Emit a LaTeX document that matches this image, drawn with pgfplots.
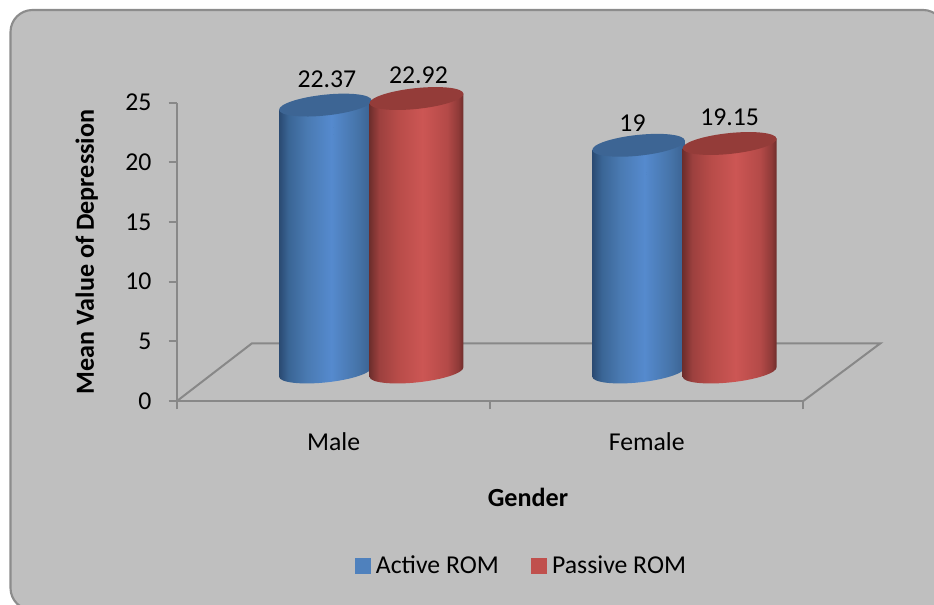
\documentclass[border=0pt]{standalone}
\usepackage{fontspec}
\setmainfont{Carlito}
\usepackage{pgfplots}
\pgfplotsset{compat=1.18}

\definecolor{framegray}{HTML}{8C8C8C}
\definecolor{panelgray}{HTML}{BFBFBF}
\definecolor{axisgray}{HTML}{888888}
\definecolor{activeblue}{HTML}{4F81BD}
\definecolor{activetop}{HTML}{3D6594}
\definecolor{passivered}{HTML}{C0504D}
\definecolor{passivetop}{HTML}{943C39}

\definecolor{bA}{HTML}{2A4A72}\definecolor{bB}{HTML}{3A6595}
\definecolor{bC}{HTML}{4A7AB2}\definecolor{bD}{HTML}{558ACE}
\definecolor{bE}{HTML}{4674A9}\definecolor{bF}{HTML}{3A6190}
\definecolor{rA}{HTML}{6E2E2C}\definecolor{rB}{HTML}{9C403E}
\definecolor{rC}{HTML}{B84C49}\definecolor{rD}{HTML}{CC5654}
\definecolor{rE}{HTML}{B44A48}\definecolor{rF}{HTML}{8F3A38}
\definecolor{rG}{HTML}{6B2C2A}

% Side shading of the cylinders; the path occupies the 25bp--75bp band.
\pgfdeclarehorizontalshading{cylblue}{100bp}{
  color(0bp)=(bA); color(25bp)=(bA); color(30bp)=(bB); color(40bp)=(bC);
  color(53bp)=(bD); color(67bp)=(bE); color(75bp)=(bF); color(100bp)=(bF)}
\pgfdeclarehorizontalshading{cylred}{100bp}{
  color(0bp)=(rA); color(25bp)=(rA); color(30bp)=(rB); color(40bp)=(rC);
  color(53bp)=(rD); color(66bp)=(rE); color(72bp)=(rF); color(75bp)=(rG);
  color(100bp)=(rG)}

% One cylinder, drawn at its data point; the height comes from the value \val.
% #1 sideways offset, #2 major radius, #3 minor radius, #4 tilt of the ellipses
% in degrees, #5 side shading, #6 colour of the top face.
\newcommand{\drawcylinder}[6]{%
  \pgfmathsetmacro{\cylH}{\val*11.932}%
  \pgfmathsetmacro{\cx}{(#1)*0.75}%
  \pgfmathsetmacro{\cy}{29*0.75}%
  \pgfmathsetmacro{\ax}{#2*cos(#4)*0.75}%
  \pgfmathsetmacro{\ay}{#2*sin(#4)*0.75}%
  \pgfmathsetmacro{\bx}{-#3*sin(#4)*0.75}%
  \pgfmathsetmacro{\by}{#3*cos(#4)*0.75}%
  \pgfmathsetmacro{\baseY}{\cy-\cylH*0.75}%
  \pgfscope
    \pgfpathmoveto{\pgfpoint{\cx pt-\ax pt}{\cy pt-\ay pt}}%
    \pgfpathlineto{\pgfpoint{\cx pt-\ax pt}{\baseY pt-\ay pt}}%
    \pgfpatharcaxes{180}{360}{\pgfpoint{\ax pt}{\ay pt}}{\pgfpoint{\bx pt}{\by pt}}%
    \pgfpathlineto{\pgfpoint{\cx pt+\ax pt}{\cy pt+\ay pt}}%
    \pgfpathclose
    \pgfshadepath{#5}{0}%
    \pgfusepath{discard}%
  \endpgfscope
  \pgfscope
    \pgfsetfillcolor{#6}%
    \pgfpathellipse{\pgfpoint{\cx pt}{\cy pt}}{\pgfpoint{\ax pt}{\ay pt}}{\pgfpoint{\bx pt}{\by pt}}%
    \pgfusepath{fill}%
  \endpgfscope}

\pgfplotsset{
  cylinders/.style={
    forget plot,
    scatter,
    only marks,
    mark=*,
    mark size=0pt,
    mark options={draw=none,fill=none},
    point meta=y,
    visualization depends on={rawy \as \val},
    visualization depends on={\thisrow{dx} \as \labdx},
    visualization depends on={\thisrow{dy} \as \labdy},
    scatter/@post marker code/.code={},
    nodes near coords,
    every node near coord/.append style={font=\fontsize{19.3}{23}\selectfont,
      text=black,anchor=center,inner sep=0pt},
  },
}

\begin{document}
\begin{tikzpicture}[x=0.75pt,y=0.75pt]
  \useasboundingbox (0,0) rectangle (934,604);
  \begin{scope}
    \clip (0,0) rectangle (934,604);
    \draw[framegray,line width=1.6pt,fill=panelgray,rounded corners=16.5pt]
      (10.5,-6) rectangle (945,594);
  \end{scope}

  \begin{axis}[
    at={(132.75pt,152.25pt)},anchor=south west,
    scale only axis,
    width=626.3*0.75pt,height=298.3*0.75pt,
    xmin=0,xmax=2,ymin=0,ymax=25,
    clip=false,
    axis x line*=bottom,axis y line*=left,
    axis line style={axisgray,line width=1.5pt,-},
    tick style={axisgray,line width=1.5pt},
    tick align=outside,
    major tick length=6.2pt,
    xtick={0,1,2},xticklabels={},
    ytick={0,5,10,15,20,25},
    extra x ticks={0.5,1.5},
    extra x tick labels={Male,Female},
    extra x tick style={major tick length=0pt,
      xticklabel style={yshift=-20pt}},
    yticklabel style={xshift=-9.5pt},
    tick label style={font=\fontsize{19.3}{23}\selectfont,text=black},
    /pgf/number format/assume math mode=true,
    xlabel={\textbf{Gender}},
    ylabel={\textbf{Mean Value of Depression}},
    label style={font=\fontsize{19.6}{23}\selectfont},
    x label style={at={(axis description cs:0.5604,-0.3220)},anchor=center},
    y label style={at={(axis description cs:-0.1442,0.5)},anchor=center},
    legend style={draw=none,fill=none,at={(axis description cs:0.5503,-0.5515)},
      anchor=center,font=\fontsize{19.3}{23}\selectfont,
      legend columns=2,inner sep=0pt,row sep=0pt,
      /tikz/every odd column/.append style={column sep=2.3pt},
      /tikz/every even column/.append style={column sep=22pt}},
    legend cell align=left,
  ]

    % Floor of the chart
    \addplot[forget plot,no markers,sharp plot,axisgray,line width=1.5pt] coordinates {
      (0,0) (0.2396,4.84) (2.2465,4.84) (2,0)
    };

    % Active ROM
    \addplot[cylinders,
      scatter/@pre marker code/.code={\drawcylinder{-8.2}{46.5}{10.4}{6}{cylblue}{activetop}},
      every node near coord/.append style={xshift=(-8.2+\labdx)*0.75pt,yshift=(29+\labdy)*0.75pt},
    ] table {
      x   y     dx   dy
      0.5 22.37 1.5  26
      1.5 19    -6   22
    };

    % Passive ROM
    \addplot[cylinders,
      scatter/@pre marker code/.code={\drawcylinder{82.9}{47.2}{10.4}{6}{cylred}{passivetop}},
      every node near coord/.append style={xshift=(82.9+\labdx)*0.75pt,yshift=(29+\labdy)*0.75pt},
    ] table {
      x   y     dx   dy
      0.5 22.92 2    23
      1.5 19.15 0    26
    };

    \addlegendimage{legend image code/.code={
      \fill[activeblue] (0cm,-5.6pt) rectangle (11.3pt,5.8pt);}}
    \addlegendentry{Active ROM}
    \addlegendimage{legend image code/.code={
      \fill[passivered] (0cm,-5.6pt) rectangle (11.3pt,5.8pt);}}
    \addlegendentry{Passive ROM}
  \end{axis}
\end{tikzpicture}
\end{document}
